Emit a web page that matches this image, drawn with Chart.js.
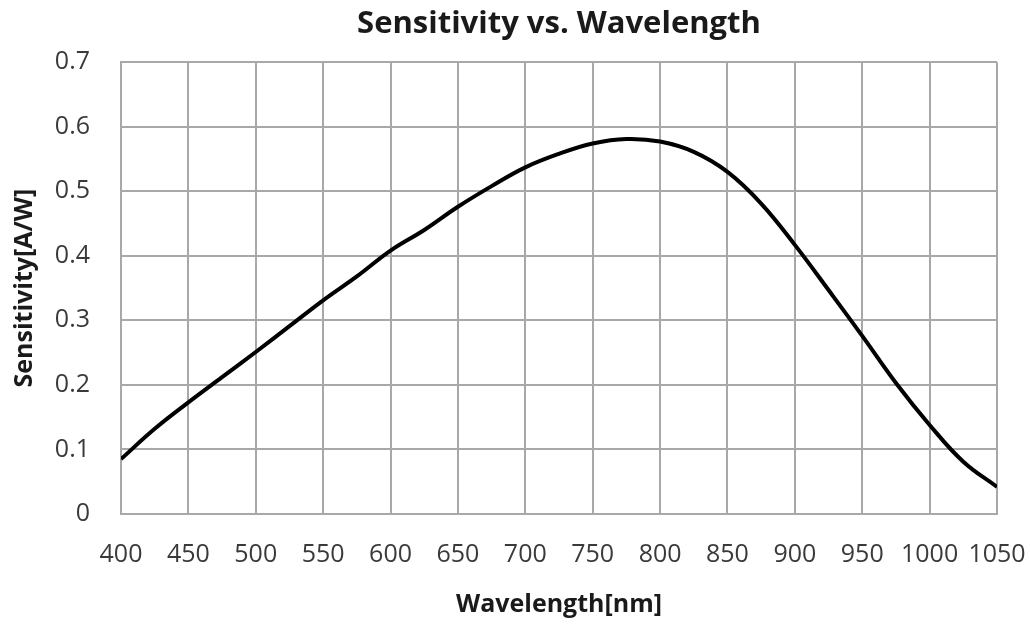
<!DOCTYPE html>
<html>
<head>
<meta charset="utf-8">
<script src="https://cdn.jsdelivr.net/npm/chart.js@4"></script>
<style>
  html, body { margin: 0; padding: 0; background: #fff; }
  #wrap { width: 1030px; height: 624px; }
</style>
</head>
<body>
<div id="wrap"><canvas id="chart"></canvas></div>
<script>
// wavelength [nm] and sensitivity [A/W]
const wavelengths = [400, 425, 450, 475, 500, 525, 550, 575, 600, 625, 650, 675, 700,
  725, 750, 775, 800, 825, 850, 875, 900, 925, 950, 975, 1000, 1025, 1050];
const sensitivity = [0.085, 0.132, 0.173, 0.212, 0.251, 0.291, 0.331, 0.368, 0.408, 0.440,
  0.476, 0.508, 0.537, 0.558, 0.574, 0.581, 0.577, 0.561, 0.530, 0.481, 0.417, 0.347,
  0.276, 0.203, 0.138, 0.081, 0.042];

const xTicks = [400, 450, 500, 550, 600, 650, 700, 750, 800, 850, 900, 950, 1000, 1050];
const yTickLabels = ['0', '0.1', '0.2', '0.3', '0.4', '0.5', '0.6', '0.7'];

const gridColor = '#a8a8a8';
const textColor = '#3a3a3a';
const fontFamily = '"Open Sans", "Noto Sans", sans-serif';

const points = wavelengths.map((w, i) => ({ x: w, y: sensitivity[i] }));

new Chart(document.getElementById('chart'), {
  type: 'line',
  data: {
    datasets: [{
      data: points,
      borderColor: '#000',
      borderWidth: 4,
      pointRadius: 0,
      tension: 0.4,
      fill: false
    }]
  },
  options: {
    responsive: true,
    maintainAspectRatio: false,
    animation: false,
    layout: { padding: { top: 0, right: 33, bottom: 0, left: 0 } },
    plugins: {
      legend: { display: false },
      tooltip: { enabled: false },
      title: {
        display: true,
        text: 'Sensitivity vs. Wavelength',
        fullSize: false,
        color: '#1a1a1a',
        font: { family: fontFamily, size: 31, weight: 'bold' },
        padding: { top: 6, bottom: 19 }
      }
    },
    scales: {
      x: {
        type: 'linear',
        min: 400,
        max: 1050,
        afterFit: s => { s.height = 110; s.paddingLeft = 0; s.paddingRight = 0; },
        afterBuildTicks: s => { s.ticks = xTicks.map(v => ({ value: v })); },
        grid: { color: gridColor, lineWidth: 2, drawTicks: false },
        border: { color: gridColor, width: 2 },
        ticks: {
          color: textColor,
          padding: 26,
          maxRotation: 0,
          autoSkip: false,
          font: { family: fontFamily, size: 25 },
          callback: v => String(v)
        },
        title: {
          display: true,
          text: 'Wavelength[nm]',
          color: '#1a1a1a',
          font: { family: fontFamily, size: 25, weight: 'bold' },
          padding: { top: 0, bottom: 4 }
        }
      },
      y: {
        min: 0,
        max: 0.7,
        afterFit: s => { s.width = 121; },
        afterBuildTicks: s => { s.ticks = yTickLabels.map((t, i) => ({ value: i / 10 })); },
        grid: { color: gridColor, lineWidth: 2, drawTicks: false },
        border: { color: gridColor, width: 2 },
        ticks: {
          color: textColor,
          padding: 31,
          font: { family: fontFamily, size: 25 },
          callback: (v, i) => yTickLabels[i]
        },
        title: {
          display: true,
          text: 'Sensitivity[A/W]',
          color: '#1a1a1a',
          font: { family: fontFamily, size: 25, weight: 'bold' },
          padding: { top: 10, bottom: 0 }
        }
      }
    }
  }
});
</script>
</body>
</html>
